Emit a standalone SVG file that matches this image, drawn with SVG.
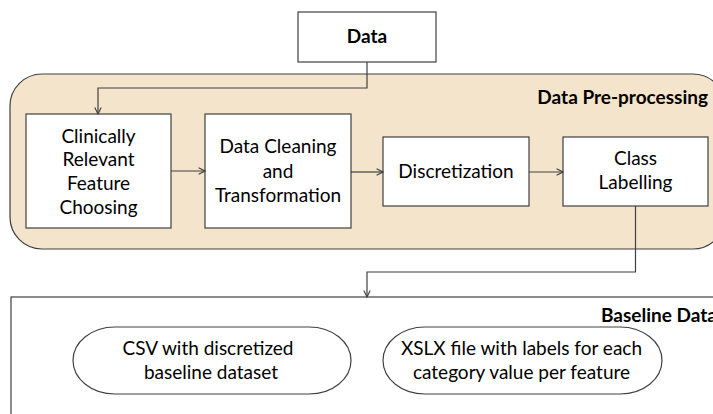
<svg xmlns="http://www.w3.org/2000/svg" width="713" height="414" viewBox="0 0 713 414">
  <style>
    .box { fill: #ffffff; stroke: #404040; stroke-width: 1.2; }
    .stage { fill: #f3e4cb; stroke: #404040; stroke-width: 1.2; }
    .frame { fill: #ffffff; stroke: #404040; stroke-width: 1.2; }
    .wire { fill: none; stroke: #404040; stroke-width: 1.2; marker-end: url(#arrow); }
    text { font-family: Lato, "Liberation Sans", sans-serif; font-size: 19px; fill: #000000; text-anchor: middle; }
    .title { font-weight: bold; }
  </style>
  <defs>
    <marker id="arrow" viewBox="0 0 10 10" refX="9" refY="5" markerWidth="8" markerHeight="8" markerUnits="userSpaceOnUse" orient="auto">
      <polyline points="1,1 9,5 1,9" fill="none" stroke="#404040" stroke-width="1.4"/>
    </marker>
  </defs>

  <!-- Pre-processing container -->
  <g id="preprocessing">
    <rect class="stage" x="10" y="74" width="715" height="175" rx="32" ry="32"/>
    <text class="title" x="708" y="104" style="text-anchor:end">Data Pre-processing</text>
  </g>

  <!-- Baseline data container -->
  <g id="baseline">
    <rect class="frame" x="11" y="297" width="720" height="140"/>
    <text class="title" x="601" y="322" style="text-anchor:start">Baseline Data</text>
  </g>

  <g id="data">
    <rect class="box" x="298" y="12" width="138" height="50"/>
    <text class="title" x="367" y="43">Data</text>
  </g>

  <g id="feature-choosing">
    <rect class="box" x="26" y="114" width="145" height="114"/>
    <text x="98.5" y="143">Clinically</text>
    <text x="98.5" y="166">Relevant</text>
    <text x="98.5" y="190">Feature</text>
    <text x="98.5" y="214">Choosing</text>
  </g>

  <g id="cleaning">
    <rect class="box" x="205" y="114" width="146" height="114"/>
    <text x="278" y="153">Data Cleaning</text>
    <text x="278" y="178">and</text>
    <text x="278" y="202">Transformation</text>
  </g>

  <g id="discretization">
    <rect class="box" x="383" y="137" width="146" height="69"/>
    <text x="456" y="178">Discretization</text>
  </g>

  <g id="labelling">
    <rect class="box" x="563" y="137" width="145" height="69"/>
    <text x="635.5" y="165">Class</text>
    <text x="635.5" y="189">Labelling</text>
  </g>

  <g id="csv-output">
    <rect class="box" x="73" y="327" width="278" height="67" rx="42" ry="33.5"/>
    <text x="208" y="355">CSV with discretized</text>
    <text x="211" y="379">baseline dataset</text>
  </g>

  <g id="xslx-output">
    <rect class="box" x="383" y="327" width="279" height="67" rx="42" ry="33.5"/>
    <text x="521.5" y="355">XSLX file with labels for each</text>
    <text x="521.5" y="379">category value per feature</text>
  </g>

  <!-- Connectors -->
  <g id="connectors">
    <path class="wire" d="M367,62 V88 H98 V114"/>
    <path class="wire" d="M171,171 H205"/>
    <path class="wire" d="M351,172 H383"/>
    <path class="wire" d="M529,172 H563"/>
    <path class="wire" d="M635.5,206 V272 H367 V297"/>
  </g>
</svg>
